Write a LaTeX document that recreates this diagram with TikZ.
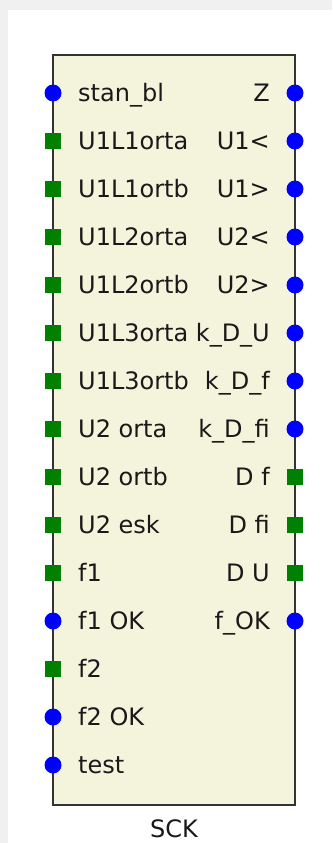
\documentclass[tikz,border=0pt]{standalone}
\usepackage{fontspec}
\setmainfont{DejaVu Sans}
\definecolor{boxfill}{HTML}{F4F4DC}
\definecolor{boxline}{HTML}{333333}
\definecolor{pinblue}{HTML}{0000FF}
\definecolor{pingreen}{HTML}{008000}
\definecolor{bgshade}{HTML}{F0F0F0}
\tikzset{
  blk/.style={draw=boxline, line width=2pt, fill=boxfill},
  bpin/.style={circle, fill=pinblue, draw=none, minimum size=17pt, inner sep=0pt},
  gpin/.style={rectangle, fill=pingreen, draw=none, minimum size=16pt, inner sep=0pt},
  lbl/.style={font=\fontsize{24}{28}\selectfont, text=black!90, inner sep=0pt},
}
\begin{document}
\begin{tikzpicture}[x=1pt,y=-1pt]
\useasboundingbox (0,0) rectangle (332,843);
\fill[bgshade] (0,0) rectangle (332,843);
\fill[white] (8,10) rectangle (332,843);
\draw[blk] (53,55) rectangle (295,805);
% left pins
\foreach \i/\t/\k in {0/stan\_bl/bpin,1/U1L1orta/gpin,2/U1L1ortb/gpin,3/U1L2orta/gpin,4/U1L2ortb/gpin,5/U1L3orta/gpin,6/U1L3ortb/gpin,7/U2 orta/gpin,8/U2 ortb/gpin,9/U2 esk/gpin,10/f1/gpin,11/f1 OK/bpin,12/f2/gpin,13/f2 OK/bpin,14/test/bpin}{
  \pgfmathsetmacro{\yy}{93+48*\i}
  \pgfmathsetmacro{\yb}{\yy+8.5}
  \node[\k] (lp\i) at (53,\yy) {};
  \node[lbl, anchor=base west] (lt\i) at (78,\yb) {\t};
}
% right pins
\foreach \i/\t/\k in {0/Z/bpin,1/U1</bpin,2/U1>/bpin,3/U2</bpin,4/U2>/bpin,5/k\_D\_U/bpin,6/k\_D\_f/bpin,7/k\_D\_fi/bpin,8/D f/gpin,9/D fi/gpin,10/D U/gpin,11/f\_OK/bpin}{
  \pgfmathsetmacro{\yy}{93+48*\i}
  \pgfmathsetmacro{\yb}{\yy+8.5}
  \node[\k] (rp\i) at (295,\yy) {};
  \node[lbl, anchor=base east] (rt\i) at (270,\yb) {\t};
}
\node[lbl, anchor=base] (title) at (174,837) {SCK};
\end{tikzpicture}
\end{document}
